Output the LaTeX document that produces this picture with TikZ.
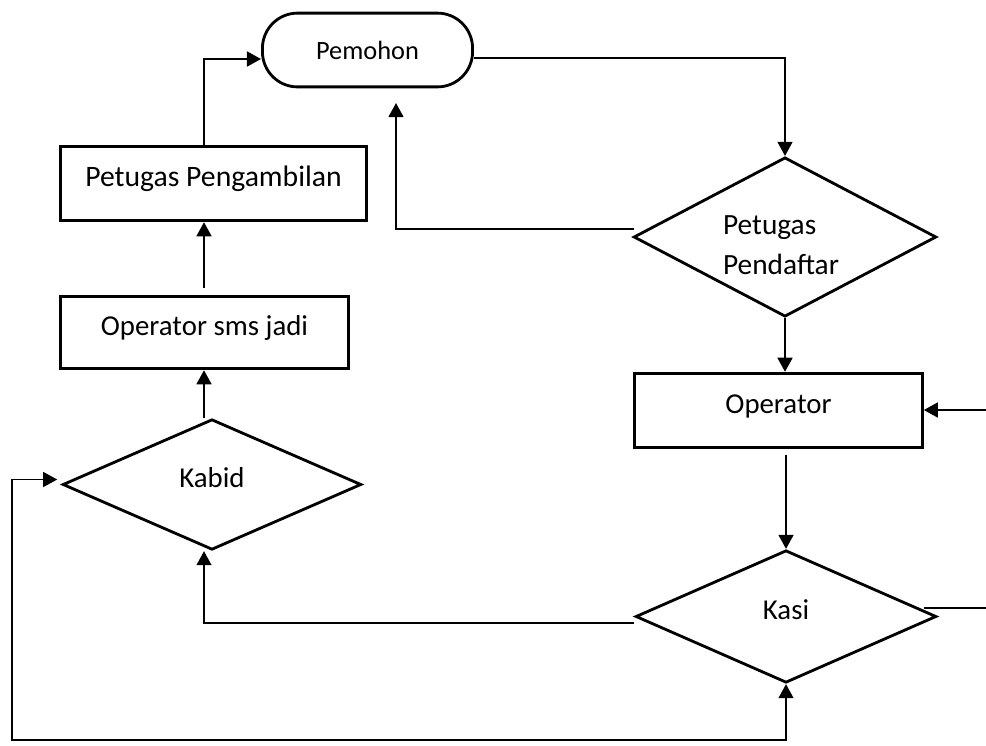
\documentclass[tikz,border=0pt]{standalone}
\usepackage{fontspec}
\setmainfont{Carlito}
\usetikzlibrary{shapes.geometric}
\usetikzlibrary{arrows.meta}
\usetikzlibrary{calc}

\begin{document}
\begin{tikzpicture}[x=0.02cm, y=-0.02cm,
    box/.style={draw, line width=1.6pt, inner sep=0pt, text height=11pt, text depth=8pt,
      font=\fontsize{16.4}{19}\selectfont},
    choice/.style={draw, diamond, aspect=1.9, line width=1.6pt, inner sep=0pt, text height=11pt, text depth=8pt,
      font=\fontsize{16.4}{23}\selectfont},
    conn/.style={line width=1.1pt, -{Triangle[length=8pt,width=8.5pt]}},
    thinconn/.style={line width=0.85pt, -{Triangle[length=8pt,width=8.5pt]}}]

    \useasboundingbox (0,0) rectangle (986,745);

    % the units
    \node[box, rounded corners=20pt, minimum width=119.6pt, minimum height=42pt,
      text height=, text depth=, font=\fontsize{15}{18}\selectfont] (pemohon) at (367.5,50) {Pemohon};
    \node[box, minimum width=174pt, minimum height=42.5pt,
      font=\fontsize{16.9}{19}\selectfont] (pengambilan) at (213.5,183.5) {Petugas Pengambilan};
    \node[box, minimum width=163.8pt, minimum height=41.4pt] (smsjadi) at (204.5,332.5) {Operator sms jadi};
    \node[choice, minimum width=170pt, minimum height=74.3pt] (kabid) at (212,484.5) {Kabid};
    \node[choice, minimum width=172.3pt, minimum height=90.7pt, align=left,
      text height=, text depth=, font=\fontsize{16.7}{23}\selectfont] (pendaftar) at (785,237)
      {\rule{0pt}{20pt}Petugas\\Pendaftar\hspace*{4.5pt}};
    \node[box, minimum width=163.8pt, minimum height=42.5pt] (operator) at (778.5,410.5) {Operator};
    \node[choice, minimum width=171.2pt, minimum height=75.4pt] (kasi) at (786,616.5) {Kasi};

    % helper points
    \coordinate (colL) at (204,0);
    \coordinate (ask) at (396,103);
    \coordinate (outR) at (986,608);
    \coordinate (inR) at (986,410);
    \coordinate (cornerBL) at (12,740);
    \coordinate (kabidin) at ($(kabid.west)+(-4,-5)$);

    % right column
    \draw[thinconn] ($(pemohon.east)+(0,8)$) -| (pendaftar.north);
    \draw[thinconn] ($(pendaftar.west)+(2,-8)$) -| (ask);
    \draw[conn] (pendaftar.south) -- (pendaftar.south |- operator.north);
    \draw[conn, shorten <=3pt] (operator.south -| kasi.north) -- (kasi.north);
    \draw[line width=0.85pt] ($(kasi.east)+(-14,-8.5)$) -- (outR);
    \draw[conn] (inR) -- (operator.east |- inR);

    % back to the left column
    \draw[thinconn] ($(kasi.west)+(0,6.5)$) -| (kabid.south -| colL);
    \draw[line width=0.85pt, {Triangle[length=8pt,width=8.5pt]}-{Triangle[length=8pt,width=8.5pt]}]
      (kabidin) -- (kabidin -| cornerBL) -- (cornerBL) -| (kasi.south);

    % left column
    \draw[conn] (kabid.north -| colL) -- (smsjadi.south -| colL);
    \draw[conn, shorten <=4pt] (smsjadi.north -| colL) -- (pengambilan.south -| colL);
    \draw[conn] (pengambilan.north -| colL) |- ($(pemohon.west)+(0,9)$);
\end{tikzpicture}
\end{document}
